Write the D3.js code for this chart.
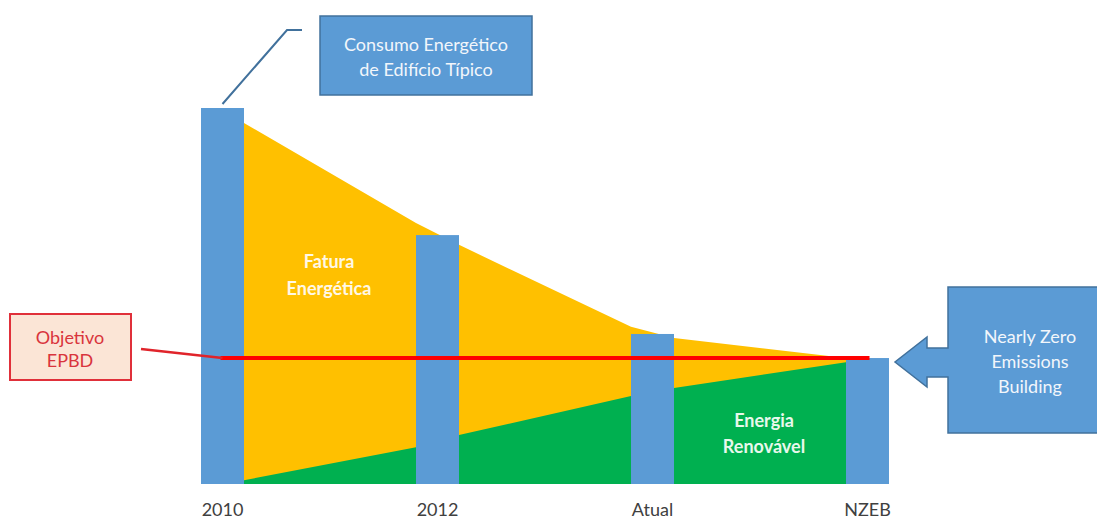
<!DOCTYPE html>
<html><head><meta charset="utf-8">
<script src="https://cdn.jsdelivr.net/npm/d3@7"></script>
<style>
html,body{margin:0;padding:0;background:#fff;}
svg{display:block;font-family:Lato,"Open Sans",sans-serif;}
</style></head>
<body><svg id="c" width="1097" height="521"></svg>
<script>
// ---- data ----
const categories = ["2010", "2012", "Atual", "NZEB"];
const barValues = [100, 66.2, 39.9, 33.5];           // typical building consumption
const targetValue = 33.5;                              // Objetivo EPBD
// envelope of the shaded areas, at positions (category index) just beside each bar
const areaPos =      [0.1, 0.9, 1.1, 1.9, 2.1, 2.9];
const consumoTop =   [96.0, 69.4, 63.6, 41.8, 38.8, 33.5];   // Fatura Energética top
const renovavelTop = [1.0, 9.8, 13.0, 23.4, 25.5, 32.4];     // Energia Renovável top

const svg = d3.select("#c");

const x = d3.scaleBand().domain(categories).range([201, 889]).paddingInner(0.8).paddingOuter(0);
const bw = x.bandwidth();
const centers = categories.map(c => x(c) + bw / 2);
const xp = d3.scaleLinear().domain([0, categories.length - 1]).range([centers[0], centers[centers.length - 1]]);
const y = d3.scaleLinear().domain([0, 100]).range([484, 108]);

const pts = areaPos.map((p, i) => ({p, top: consumoTop[i], ren: renovavelTop[i]}));

// yellow area (Fatura Energética)
svg.append("path").datum(pts)
  .attr("fill", "#FFC000")
  .attr("d", d3.area().x(d => xp(d.p)).y0(y(0)).y1(d => y(d.top)));
// green area (Energia Renovável)
svg.append("path").datum(pts)
  .attr("fill", "#00B050")
  .attr("d", d3.area().x(d => xp(d.p)).y0(y(0)).y1(d => y(d.ren)));

// bars
svg.selectAll("rect.bar").data(categories).join("rect")
  .attr("class", "bar")
  .attr("x", d => x(d)).attr("width", bw)
  .attr("y", (d, i) => y(barValues[i]))
  .attr("height", (d, i) => y(0) - y(barValues[i]))
  .attr("fill", "#5B9BD5");

// target line
svg.append("line")
  .attr("x1", centers[0] - 2).attr("x2", centers[3] + 2)
  .attr("y1", y(targetValue)).attr("y2", y(targetValue))
  .attr("stroke", "#FF0000").attr("stroke-width", 4);

// axis
const ax = svg.append("g").attr("transform", `translate(0,${y(0)})`)
  .call(d3.axisBottom(x).tickSize(0).tickPadding(19));
ax.select(".domain").remove();
ax.selectAll("text").attr("font-size", 18).attr("fill", "#404040")
  .attr("font-family", "Lato, 'Open Sans', sans-serif");

// area labels
function label(lines, cx, cy, color, weight, size, lh) {
  const t = svg.append("text").attr("text-anchor", "middle")
    .attr("fill", color).attr("font-weight", weight).attr("font-size", size);
  lines.forEach((l, i) => t.append("tspan").attr("x", cx).attr("y", cy + i * lh).text(l));
  return t;
}
label(["Fatura", "Energética"], 329, 268, "#FFF8E6", "bold", 18, 27);
label(["Energia", "Renovável"], 764, 427, "#E8F8EC", "bold", 18, 26);

// callout: Consumo Energético
svg.append("path")
  .attr("d", `M${centers[0]},${y(barValues[0]) - 4} L287,30 L302,30`)
  .attr("fill", "none").attr("stroke", "#41719C").attr("stroke-width", 2);
svg.append("rect").attr("x", 320).attr("y", 16).attr("width", 212).attr("height", 79)
  .attr("fill", "#5B9BD5").attr("stroke", "#41719C").attr("stroke-width", 1.5);
label(["Consumo Energético", "de Edifício Típico"], 426, 51, "#F2F6FB", "normal", 18, 25);

// callout: Objetivo EPBD
svg.append("line").attr("x1", 141).attr("y1", 349).attr("x2", centers[0]).attr("y2", y(targetValue))
  .attr("stroke", "#E0242B").attr("stroke-width", 2.5);
svg.append("rect").attr("x", 10).attr("y", 314).attr("width", 121).attr("height", 66)
  .attr("fill", "#FBE5D6").attr("stroke", "#E0303A").attr("stroke-width", 2);
label(["Objetivo", "EPBD"], 70, 344, "#D9343C", "normal", 18, 23);

// callout: Nearly Zero Emissions Building (box with left arrow)
const bx = 948, by = 287, bb = 433;
svg.append("path")
  .attr("d", `M${bx},${by} L1100,${by} L1100,${bb} L${bx},${bb} L${bx},377 L927,377 L927,387 L895,362 L927,337 L927,348 L${bx},348 Z`)
  .attr("fill", "#5B9BD5").attr("stroke", "#41719C").attr("stroke-width", 1.5);
label(["Nearly Zero", "Emissions", "Building"], 1030, 343, "#F2F6FB", "normal", 18, 25);
</script></body></html>
